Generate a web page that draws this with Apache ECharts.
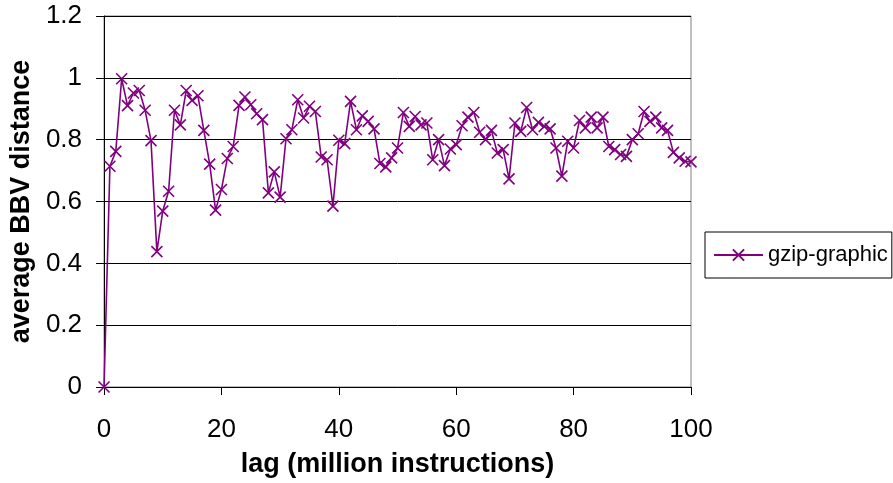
<!DOCTYPE html>
<html lang="en">

<head>
    <meta charset="UTF-8">
    <title>gzip-graphic</title>
    <script src="https://cdn.jsdelivr.net/npm/echarts@6/dist/echarts.min.js"></script>
    <style>
        body { margin: 0; background: #fff; }
    </style>
</head>

<body>
    <div id="main" style="width: 893px;height:483px;"></div>
    <script>
        var seriesName = 'gzip-graphic';
        var lags = [
            0, 1, 2, 3, 4, 5, 6, 7, 8, 9, 10, 11, 12, 13, 14, 15, 16, 17, 18, 19,
            20, 21, 22, 23, 24, 25, 26, 27, 28, 29, 30, 31, 32, 33, 34, 35, 36, 37, 38, 39,
            40, 41, 42, 43, 44, 45, 46, 47, 48, 49, 50, 51, 52, 53, 54, 55, 56, 57, 58, 59,
            60, 61, 62, 63, 64, 65, 66, 67, 68, 69, 70, 71, 72, 73, 74, 75, 76, 77, 78, 79,
            80, 81, 82, 83, 84, 85, 86, 87, 88, 89, 90, 91, 92, 93, 94, 95, 96, 97, 98, 99, 100
        ];
        var distance = [
            0, 0.714, 0.762, 0.997, 0.91, 0.951, 0.959, 0.895, 0.797, 0.438,
            0.569, 0.633, 0.895, 0.848, 0.959, 0.927, 0.942, 0.83, 0.721, 0.572,
            0.639, 0.739, 0.778, 0.911, 0.938, 0.913, 0.884, 0.865, 0.628, 0.696,
            0.614, 0.803, 0.832, 0.929, 0.87, 0.908, 0.891, 0.744, 0.735, 0.585,
            0.798, 0.787, 0.924, 0.832, 0.877, 0.859, 0.835, 0.723, 0.712, 0.741,
            0.773, 0.888, 0.843, 0.875, 0.848, 0.854, 0.735, 0.80, 0.716, 0.77,
            0.784, 0.845, 0.873, 0.888, 0.824, 0.80, 0.83, 0.757, 0.768, 0.673,
            0.854, 0.827, 0.904, 0.832, 0.856, 0.843, 0.835, 0.773, 0.682, 0.795,
            0.773, 0.862, 0.838, 0.873, 0.838, 0.873, 0.778, 0.768, 0.752, 0.746,
            0.80, 0.819, 0.891, 0.859, 0.873, 0.838, 0.83, 0.759, 0.741, 0.73,
            0.728
        ];

        var font = 'Arial, "Liberation Sans", sans-serif';
        var purple = '#800080';
        var cross = 'path://M0,0L10,10M10,0L0,10';

        var myChart = echarts.init(document.getElementById('main'));
        var option = {
            animation: false,
            textStyle: { fontFamily: font },
            grid: {
                left: 102, right: 202, top: 16, bottom: 95,
                show: true, borderColor: '#808080', borderWidth: 1
            },
            legend: {
                left: 705, top: 232,
                padding: [12, 4, 12, 8],
                borderColor: '#000', borderWidth: 1,
                itemWidth: 49, itemHeight: 14,
                textStyle: { fontSize: 22, color: '#000', fontFamily: font },
                data: [seriesName]
            },
            xAxis: {
                type: 'value', min: 0, max: 100, interval: 20,
                name: 'lag (million instructions)',
                nameLocation: 'middle', nameGap: 64,
                nameTextStyle: { fontSize: 27, fontWeight: 'bold', color: '#000', fontFamily: font },
                axisLine: { lineStyle: { color: '#000', width: 1 } },
                axisTick: { show: true, length: 8, lineStyle: { color: '#000' } },
                axisLabel: { fontSize: 26, color: '#000', margin: 30, fontFamily: font },
                splitLine: { show: false }
            },
            yAxis: {
                type: 'value', min: 0, max: 1.2, interval: 0.2,
                name: 'average BBV distance',
                nameLocation: 'middle', nameGap: 62,
                nameTextStyle: { fontSize: 27, fontWeight: 'bold', color: '#000', fontFamily: font },
                axisLine: { show: true, lineStyle: { color: '#000', width: 1 } },
                axisTick: { show: true, length: 8, lineStyle: { color: '#000' } },
                axisLabel: { fontSize: 26, color: '#000', margin: 22, fontFamily: font },
                splitLine: { show: true, lineStyle: { color: '#000', width: 1 } }
            },
            series: [
                {
                    name: seriesName,
                    type: 'line',
                    data: lags.map((x, i) => [x, distance[i]]),
                    symbol: cross,
                    symbolSize: 11,
                    showAllSymbol: true,
                    lineStyle: { color: purple, width: 1.6 },
                    itemStyle: { color: purple, borderColor: purple, borderWidth: 1.6 }
                }
            ]
        };
        option && myChart.setOption(option);
    </script>
</body>

</html>
